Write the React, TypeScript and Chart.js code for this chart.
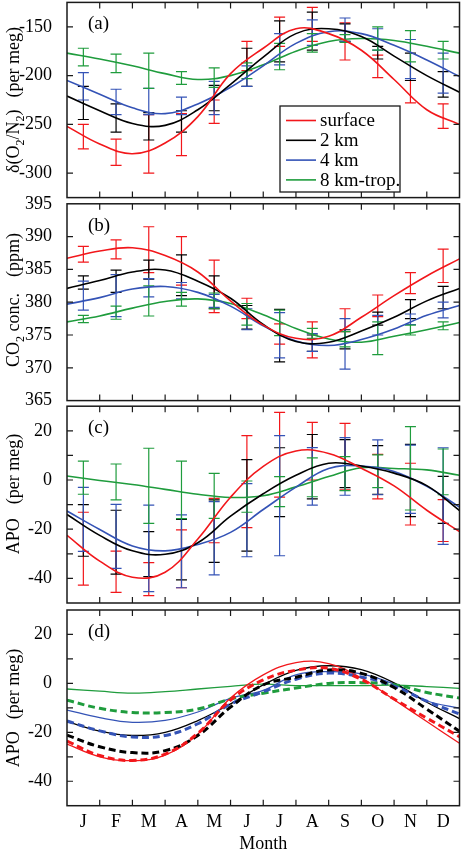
import { useEffect, useRef } from "react";
import Chart from "chart.js/auto";

Chart.defaults.font.family = '"Liberation Serif", "Times New Roman", serif';

type Bar = [number, number];
type Part = { t: string; sub?: boolean } | { gap: number };

const months = ["J", "F", "M", "A", "M", "J", "J", "A", "S", "O", "N", "D"];
const monthEdges = [0, 1, 2, 3, 4, 5, 6, 7, 8, 9, 10, 11, 12];
const monthMids = [0.5, 1.5, 2.5, 3.5, 4.5, 5.5, 6.5, 7.5, 8.5, 9.5, 10.5, 11.5];
const seriesNames = ["surface", "2 km", "4 km", "8 km-trop."];
const seriesColors = ["#f2171b", "#000000", "#3453b6", "#1f9c3d"];

// (a) d(O2/N2), per meg, at month edges
const o2Surface = [-252, -270, -280, -269, -242, -198, -172, -152, -157, -174, -204, -235, -250];
const o2Km2 = [-221, -236, -249, -251, -235, -209, -181, -157, -152, -160, -180, -200, -217];
const o2Km4 = [-205, -219, -233, -239, -229, -212, -190, -167, -155, -157, -169, -184, -201];
const o2Km8 = [-177, -183, -190, -198, -204, -200, -189, -175, -165, -162, -164, -170, -177];
const o2SurfaceBars: Bar[] = [[-275, -250], [-292, -265], [-300, -240], [-282, -239], [-249, -225], [-195, -165], [-170, -140], [-165, -130], [-184, -146], [-202, -179], [-228, -205], [-254, -229]];
const o2Km2Bars: Bar[] = [[-245, -211], [-258, -229], [-266, -238], [-258, -236], [-236, -210], [-211, -172], [-186, -144], [-174, -135], [-165, -147], [-183, -170], [-205, -177], [-222, -196]];
const o2Km4Bars: Bar[] = [[-225, -197], [-240, -214], [-240, -213], [-240, -222], [-240, -206], [-211, -190], [-189, -157], [-169, -143], [-165, -141], [-174, -152], [-203, -163], [-218, -177]];
const o2Km8Bars: Bar[] = [[-190, -172], [-197, -178], [-213, -177], [-209, -196], [-212, -192], [-203, -187], [-194, -167], [-176, -157], [-166, -158], [-174, -150], [-186, -154], [-183, -165]];

// (b) CO2, ppm
const co2Surface = [386.7, 387.8, 388.3, 387.1, 384.6, 380.2, 376.5, 374.5, 374.8, 377.7, 381.0, 384.0, 386.6];
const co2Km2 = [382.1, 383.3, 384.6, 384.9, 383.2, 380.6, 376.6, 374.0, 373.9, 375.6, 377.7, 380.2, 382.1];
const co2Km4 = [379.7, 380.7, 382.0, 382.4, 381.5, 379.4, 376.4, 374.1, 373.4, 374.3, 375.9, 378.0, 379.5];
const co2Km8 = [377.0, 377.9, 379.1, 380.1, 380.5, 379.8, 378.1, 376.0, 374.4, 373.9, 374.8, 375.8, 376.9];
const co2SurfaceBars: Bar[] = [[386.1, 388.5], [386.6, 389.5], [384.5, 391.5], [382.6, 390.0], [378.4, 386.4], [377.5, 380.6], [373.6, 376.7], [371.5, 377.0], [375.5, 379.0], [377.8, 381.1], [381.3, 384.5], [383.0, 388.1]];
const co2Km2Bars: Bar[] = [[382.0, 384.0], [381.5, 384.9], [383.5, 386.4], [381.0, 387.2], [379.0, 384.0], [375.9, 379.5], [370.9, 378.9], [372.5, 375.0], [372.9, 375.8], [376.5, 378.5], [377.5, 380.4], [379.0, 382.4]];
const co2Km4Bars: Bar[] = [[378.8, 383.2], [377.8, 384.2], [380.8, 383.6], [380.5, 383.0], [379.2, 381.2], [375.8, 379.0], [371.5, 378.4], [372.5, 375.2], [369.8, 377.5], [375.0, 378.0], [376.6, 378.2], [377.6, 380.0]];
const co2Km8Bars: Bar[] = [[376.9, 378.0], [377.4, 379.4], [377.9, 382.5], [379.4, 381.5], [379.0, 381.4], [376.5, 379.8], [374.9, 378.8], [374.5, 376.0], [373.2, 375.5], [372.0, 377.0], [375.0, 376.5], [375.8, 377.0]];

// (c) APO, per meg
const apoSurface = [-22.5, -33, -39.5, -37.5, -24, -7, 5.5, 11.8, 10.8, 4.8, -2.4, -12.3, -21];
const apoKm2 = [-14, -22.5, -28.8, -30.2, -25.5, -14.7, -5.6, 1.9, 6.8, 5.7, 2.8, -2.3, -12.4];
const apoKm4 = [-12.6, -20.1, -26.8, -28.8, -26.2, -21.3, -12, -2.9, 4.7, 5.7, 3.5, -2.6, -11];
const apoKm8 = [1.6, -0.2, -1.8, -3.8, -5.8, -7.1, -6.4, -2.8, 1.4, 5.0, 4.7, 4.1, 1.9];
const apoSurfaceBars: Bar[] = [[-42.7, -13.1], [-45.7, -28.9], [-47, -33.6], [-43.8, -20.3], [-25.5, -7.5], [-19.4, 18], [-7, 27.5], [0, 23.4], [-4, 23], [-7.7, 10.4], [-18.3, 6.8], [-25, -8]];
const apoKm2Bars: Bar[] = [[-31, -10], [-38.3, -12.3], [-39.3, -21], [-40.6, -16], [-33.5, -8.1], [-28.9, 8.3], [-14.9, 13.1], [-7.7, 18.5], [-3.1, 16.4], [-5.8, 14], [-14.9, 14.5], [-17.6, 1.5]];
const apoKm4Bars: Bar[] = [[-29, -3], [-35.9, -9.9], [-45.4, -10.2], [-43.8, -14.2], [-38.6, -8.8], [-31.2, -1.5], [-30.8, 18], [-10.2, 13.2], [-6.2, 17.2], [-6, 16.3], [-13.6, 14.2], [-26.2, 13.1]];
const apoKm8Bars: Bar[] = [[-5.8, 7.7], [-8.1, 6.5], [-17.6, 12.9], [-15.7, 7.7], [-15.6, 2.7], [-13.1, -0.4], [-10.8, 1.4], [-6.8, 9], [-4.3, 9.5], [-3.1, 10.2], [-12.2, 21.7], [-6, 12.6]];

// (d) APO, solid and dashed runs
const dSurface = [-24.8, -30.0, -31.6, -29.3, -20.7, -6.0, 3.5, 8.5, 8.1, 2.2, -6.7, -15.6, -24.5];
const dKm2 = [-15.6, -19.5, -21.3, -20.0, -15.2, -8.4, -0.6, 5.3, 7.2, 5.6, 0.2, -7.7, -14.4];
const dKm4 = [-10.9, -14.0, -15.9, -15.1, -11.7, -6.1, -2.9, 3.5, 4.8, 3.9, -0.3, -7.1, -10.1];
const dKm8 = [-2.3, -3.2, -4.0, -3.4, -2.3, -1.2, -0.3, -0.9, -0.9, -0.9, -0.7, -1.3, -2.0];
const dSurfaceDash = [-23.6, -29.5, -31.5, -28.9, -20.4, -6.8, 1.4, 5.4, 6.2, 1.6, -6.4, -14.2, -21.8];
const dKm2Dash = [-21.2, -25.9, -28.3, -27.5, -21.3, -9.7, -0.6, 2.5, 5.5, 4.1, -1.7, -10.5, -19.6];
const dKm4Dash = [-15.4, -19.4, -21.9, -21.3, -16.5, -8.5, -3.4, 1.7, 4.2, 2.6, -1.1, -7.3, -12.5];
const dKm8Dash = [-6.9, -10.2, -11.9, -11.9, -10.5, -6.4, -4.0, -1.9, 0, 0.3, -0.5, -3.7, -6.0];

const ticksO2 = [-300, -250, -200, -150];
const ticksCO2 = [365, 370, 375, 380, 385, 390, 395];
const ticksApo = [-40, -20, 0, 20];
const minorApo = [-30, -10, 10];

interface Panel {
    label: string;
    top: number;
    height: number;
    padTop: number;
    padBottom: number;
    min: number;
    max: number;
    ticks: number[];
    minor: number[];
    title: Part[];
    titleY: number;
    lines: number[][];
    dashed: number[][];
    bars: Bar[][];
    months: boolean;
    legend: boolean;
}

const panels: Panel[] = [
    {
        label: "(a)", top: 0, height: 210, padTop: 2.4, padBottom: 12.4,
        min: -325, max: -125, ticks: ticksO2, minor: [],
        title: [{ t: "δ(O" }, { t: "2", sub: true }, { t: "/N" }, { t: "2", sub: true }, { t: ")" }, { gap: 12 }, { t: "(per meg)" }],
        titleY: 100,
        lines: [o2Surface, o2Km2, o2Km4, o2Km8], dashed: [],
        bars: [o2SurfaceBars, o2Km2Bars, o2Km4Bars, o2Km8Bars],
        months: false, legend: true,
    },
    {
        label: "(b)", top: 192, height: 220, padTop: 11.8, padBottom: 11.4,
        min: 365, max: 395, ticks: ticksCO2, minor: [],
        title: [{ t: "CO" }, { t: "2", sub: true }, { t: " conc." }, { gap: 16 }, { t: "(ppm)" }],
        titleY: 300,
        lines: [co2Surface, co2Km2, co2Km4, co2Km8], dashed: [],
        bars: [co2SurfaceBars, co2Km2Bars, co2Km4Bars, co2Km8Bars],
        months: false, legend: false,
    },
    {
        label: "(c)", top: 396, height: 218, padTop: 10.2, padBottom: 11,
        min: -50, max: 30, ticks: ticksApo, minor: minorApo,
        title: [{ t: "APO" }, { gap: 14 }, { t: "(per meg)" }],
        titleY: 494,
        lines: [apoSurface, apoKm2, apoKm4, apoKm8], dashed: [],
        bars: [apoSurfaceBars, apoKm2Bars, apoKm4Bars, apoKm8Bars],
        months: false, legend: false,
    },
    {
        label: "(d)", top: 599, height: 256, padTop: 11, padBottom: 0,
        min: -50, max: 30, ticks: ticksApo, minor: minorApo,
        title: [{ t: "APO" }, { gap: 12 }, { t: "(per meg)" }],
        titleY: 708,
        lines: [dSurface, dKm2, dKm4, dKm8],
        dashed: [dSurfaceDash, dKm2Dash, dKm4Dash, dKm8Dash],
        bars: [],
        months: true, legend: false,
    },
];

const axisColor = "#1a1a1a";
const serif = '"Liberation Serif", "Times New Roman", serif';

function drawRotatedTitle(ctx: CanvasRenderingContext2D, parts: Part[], x: number, cy: number, size: number) {
    const main = `${size}px ${serif}`;
    const small = `${Math.round(size * 0.68)}px ${serif}`;
    ctx.save();
    ctx.translate(x, cy);
    ctx.rotate(-Math.PI / 2);
    ctx.fillStyle = "#000";
    ctx.textAlign = "left";
    ctx.textBaseline = "alphabetic";
    let total = 0;
    for (const p of parts) {
        if ("gap" in p) { total += p.gap; continue; }
        ctx.font = p.sub ? small : main;
        total += ctx.measureText(p.t).width;
    }
    let pos = -total / 2;
    for (const p of parts) {
        if ("gap" in p) { pos += p.gap; continue; }
        ctx.font = p.sub ? small : main;
        ctx.fillText(p.t, pos, p.sub ? size * 0.28 : 0);
        pos += ctx.measureText(p.t).width;
    }
    ctx.restore();
}

function PanelChart({ panel }: { panel: Panel }) {
    const canvasRef = useRef<HTMLCanvasElement | null>(null);
    const chartRef = useRef<Chart | null>(null);

    useEffect(() => {
        if (!canvasRef.current) return;
        if (chartRef.current) chartRef.current.destroy();

        const datasets: any[] = [];
        panel.dashed.forEach((vals, i) => {
            datasets.push({
                data: monthEdges.map((m, k) => ({ x: m, y: vals[k] })),
                borderColor: seriesColors[i],
                borderWidth: 3,
                borderDash: [7, 4],
                pointRadius: 0,
                tension: 0.4,
            });
        });
        panel.lines.forEach((vals, i) => {
            datasets.push({
                data: monthEdges.map((m, k) => ({ x: m, y: vals[k] })),
                borderColor: seriesColors[i],
                borderWidth: panel.dashed.length ? 1.3 : 1.6,
                pointRadius: 0,
                tension: 0.4,
            });
        });

        const decor = {
            id: "panelDecor",
            beforeDatasetsDraw(chart: any) {
                const ctx = chart.ctx as CanvasRenderingContext2D;
                const xs = chart.scales.x;
                const ys = chart.scales.y;
                ctx.save();
                ctx.lineWidth = 1.2;
                panel.bars.forEach((bars, s) => {
                    ctx.strokeStyle = seriesColors[s];
                    bars.forEach(([lo, hi], i) => {
                        const px = xs.getPixelForValue(monthMids[i]);
                        const y1 = ys.getPixelForValue(lo);
                        const y2 = ys.getPixelForValue(hi);
                        ctx.beginPath();
                        ctx.moveTo(px, y1);
                        ctx.lineTo(px, y2);
                        ctx.moveTo(px - 5.5, y1);
                        ctx.lineTo(px + 5.5, y1);
                        ctx.moveTo(px - 5.5, y2);
                        ctx.lineTo(px + 5.5, y2);
                        ctx.stroke();
                    });
                });
                ctx.restore();
            },
            afterDraw(chart: any) {
                const ctx = chart.ctx as CanvasRenderingContext2D;
                const { left, right, top, bottom } = chart.chartArea;
                const xs = chart.scales.x;
                const ys = chart.scales.y;
                ctx.save();
                ctx.strokeStyle = axisColor;
                ctx.lineWidth = 1.5;
                ctx.strokeRect(left, top, right - left, bottom - top);
                ctx.lineWidth = 1.2;
                ctx.beginPath();
                monthEdges.slice(1, -1).forEach((m) => {
                    const px = xs.getPixelForValue(m);
                    ctx.moveTo(px, top);
                    ctx.lineTo(px, top + 6);
                    ctx.moveTo(px, bottom);
                    ctx.lineTo(px, bottom - 6);
                });
                [...panel.ticks, ...panel.minor].forEach((v) => {
                    if (v <= panel.min || v >= panel.max) return;
                    const py = ys.getPixelForValue(v);
                    ctx.moveTo(left, py);
                    ctx.lineTo(left + 6, py);
                    ctx.moveTo(right, py);
                    ctx.lineTo(right - 6, py);
                });
                ctx.stroke();

                ctx.fillStyle = "#000";
                ctx.font = `19px ${serif}`;
                ctx.textAlign = "left";
                ctx.textBaseline = "middle";
                ctx.fillText(panel.label, 88, top + 22);

                drawRotatedTitle(ctx, panel.title, 19, panel.titleY - panel.top, 18);

                if (panel.legend) {
                    ctx.fillStyle = "#fff";
                    ctx.fillRect(280, 106, 120, 86);
                    ctx.lineWidth = 1.3;
                    ctx.strokeStyle = axisColor;
                    ctx.strokeRect(280, 106, 120, 86);
                    ctx.font = `19px ${serif}`;
                    seriesNames.forEach((name, i) => {
                        const ry = 120.5 + i * 19.8;
                        ctx.strokeStyle = seriesColors[i];
                        ctx.lineWidth = 1.6;
                        ctx.beginPath();
                        ctx.moveTo(286, ry);
                        ctx.lineTo(316, ry);
                        ctx.stroke();
                        ctx.fillStyle = "#000";
                        ctx.fillText(name, 320, ry + 1);
                    });
                }
                ctx.restore();
            },
        };

        chartRef.current = new Chart(canvasRef.current, {
            type: "line",
            data: { datasets },
            options: {
                responsive: false,
                animation: false,
                events: [],
                layout: { padding: { left: 0, right: 2.5, top: panel.padTop, bottom: panel.padBottom } },
                plugins: { legend: { display: false }, tooltip: { enabled: false } },
                scales: {
                    x: {
                        type: "linear",
                        min: 0,
                        max: 12,
                        display: panel.months,
                        grid: { display: false },
                        border: { display: false },
                        afterBuildTicks: (scale: any) => {
                            scale.ticks = monthMids.map((v) => ({ value: v }));
                        },
                        afterFit: (scale: any) => {
                            scale.height = panel.months ? 49.3 : 0;
                            scale.paddingLeft = 0;
                            scale.paddingRight = 0;
                        },
                        ticks: {
                            autoSkip: false,
                            maxRotation: 0,
                            padding: -2,
                            color: "#000",
                            font: { size: 18 },
                            callback: (_v: any, i: number) => months[i],
                        },
                        title: {
                            display: true,
                            text: "Month",
                            color: "#000",
                            font: { size: 18 },
                            padding: { top: 0, bottom: 0 },
                        },
                    },
                    y: {
                        type: "linear",
                        min: panel.min,
                        max: panel.max,
                        grid: { display: false },
                        border: { display: false },
                        afterBuildTicks: (scale: any) => {
                            scale.ticks = panel.ticks.map((v) => ({ value: v }));
                        },
                        afterFit: (scale: any) => {
                            scale.width = 67;
                            scale.paddingTop = 0;
                            scale.paddingBottom = 0;
                        },
                        ticks: { padding: 7, color: "#000", font: { size: 18 } },
                    },
                },
            },
            plugins: [decor],
        } as any);

        return () => {
            chartRef.current?.destroy();
            chartRef.current = null;
        };
    }, [panel]);

    return (
        <div style={{ position: "absolute", left: 0, top: panel.top, width: 462, height: panel.height }}>
            <canvas ref={canvasRef} width={462} height={panel.height} />
        </div>
    );
}

export default function App() {
    useEffect(() => {
        document.body.style.margin = "0";
    }, []);

    return (
        <div style={{ position: "relative", width: 462, height: 850, overflow: "hidden", background: "#fff" }}>
            {panels.map((p) => (
                <PanelChart key={p.label} panel={p} />
            ))}
        </div>
    );
}
